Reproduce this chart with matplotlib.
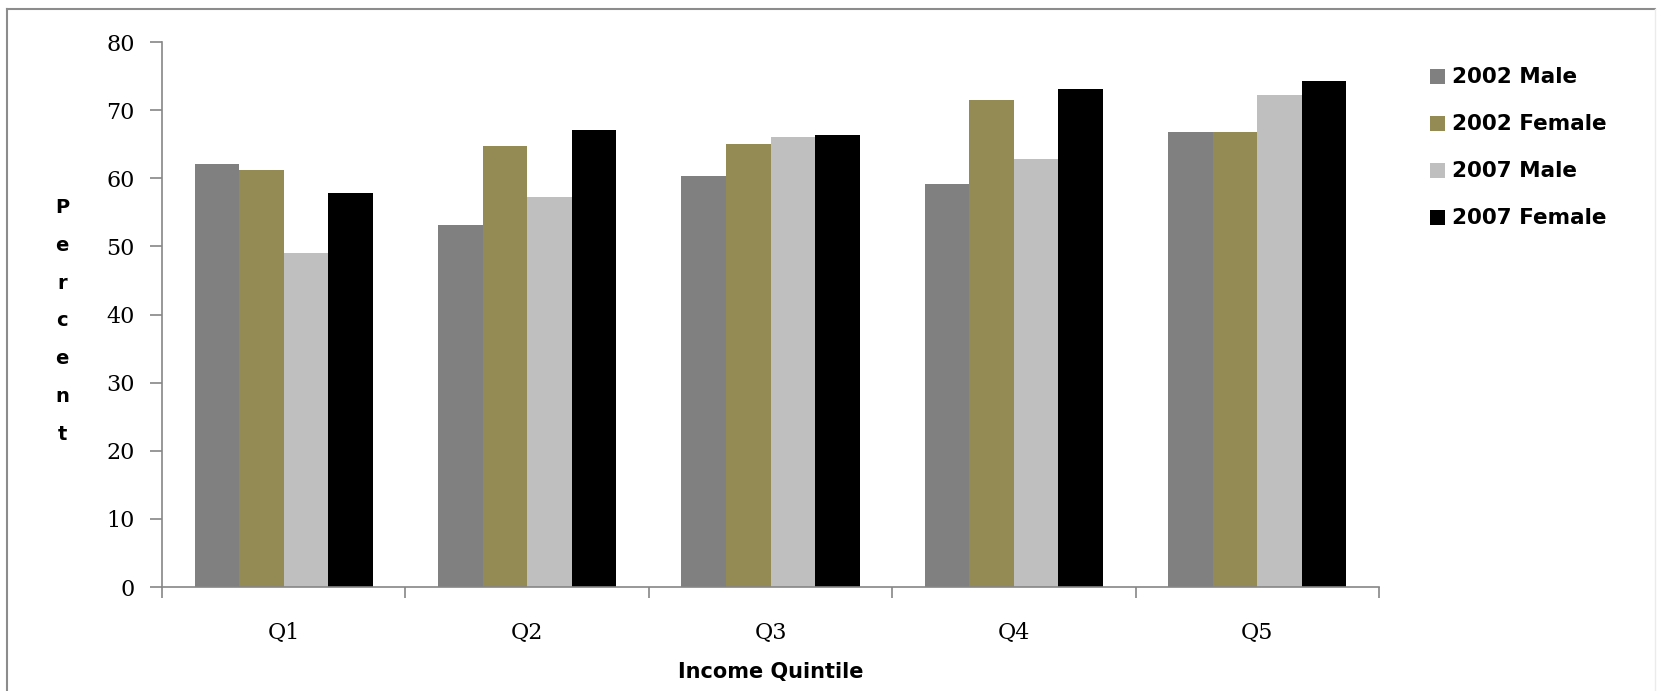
import matplotlib
matplotlib.use("Agg")
import matplotlib.pyplot as plt
from matplotlib.lines import Line2D
import numpy as np

# Share of population (percent) by income quintile, survey years 2002 and 2007
quintiles = ["Q1", "Q2", "Q3", "Q4", "Q5"]
series_names = ["2002 Male", "2002 Female", "2007 Male", "2007 Female"]
male_2002 = [62.1, 53.2, 60.4, 59.1, 66.8]
female_2002 = [61.2, 64.7, 65.1, 71.5, 66.8]
male_2007 = [49.1, 57.2, 66.1, 62.8, 72.2]
female_2007 = [57.9, 67.1, 66.3, 73.1, 74.3]
y_ticks = [0, 10, 20, 30, 40, 50, 60, 70, 80]

series = [male_2002, female_2002, male_2007, female_2007]
colors = ["#808080", "#948A54", "#BFBFBF", "#000000"]
axis_color = "#868686"

W, H = 1661, 691
fig = plt.figure(figsize=(W / 100, H / 100), dpi=100)
ax = fig.add_axes([162 / W, 1 - 587 / H, (1379 - 162) / W, (587 - 42) / H])

x = np.arange(len(quintiles))
width = 0.183
for j, (vals, name, col) in enumerate(zip(series, series_names, colors)):
    ax.bar(x + (j - 1.5) * width, vals, width=width, color=col, label=name,
           linewidth=0)

ax.set_xlim(-0.5, len(quintiles) - 0.5)
ax.set_ylim(0, 80)
ax.set_yticks(y_ticks)
ax.set_yticklabels([str(t) for t in y_ticks], family="DejaVu Serif", fontsize=16)

# category labels sit between the boundary tick marks
ax.set_xticks(x)
ax.set_xticklabels(quintiles, family="DejaVu Serif", fontsize=16)
ax.set_xticks(np.arange(-0.5, len(quintiles)), minor=True)
ax.tick_params(axis="x", which="major", length=0, pad=25)
ax.tick_params(axis="x", which="minor", length=8, color=axis_color, width=1.2)
ax.tick_params(axis="y", length=8.6, color=axis_color, width=1.2, pad=11)

for side in ("top", "right"):
    ax.spines[side].set_visible(False)
for side in ("left", "bottom"):
    ax.spines[side].set_color(axis_color)
    ax.spines[side].set_linewidth(1.2)

ax.set_xlabel("Income Quintile", fontsize=15, fontweight="bold", labelpad=13)
fig.text(62 / W, 1 - 321 / H, "\n".join("Percent"), ha="center", va="center",
         fontsize=14, fontweight="bold", linespacing=2.25)

handles = [Line2D([], [], marker="s", linestyle="none", markersize=10.8,
                  markerfacecolor=c, markeredgewidth=0) for c in colors]
fig.legend(handles, series_names, loc="upper left",
           bbox_to_anchor=(1410 / W, 1 - 48 / H), frameon=False,
           prop={"weight": "bold", "size": 15.5},
           handlelength=0.7, handletextpad=0.37, labelspacing=1.25)

# chart frame
fig.add_artist(Line2D([7 / W, 7 / W], [0, 1 - 9 / H], transform=fig.transFigure,
                      color="#8C8C8C", linewidth=1.5))
fig.add_artist(Line2D([7 / W, 1655 / W], [1 - 9 / H, 1 - 9 / H],
                      transform=fig.transFigure, color="#8C8C8C", linewidth=1.5))
fig.add_artist(Line2D([1655 / W, 1655 / W], [0, 1 - 9 / H],
                      transform=fig.transFigure, color="#EBEBEB", linewidth=1))

fig.savefig("out.png", dpi=100)
